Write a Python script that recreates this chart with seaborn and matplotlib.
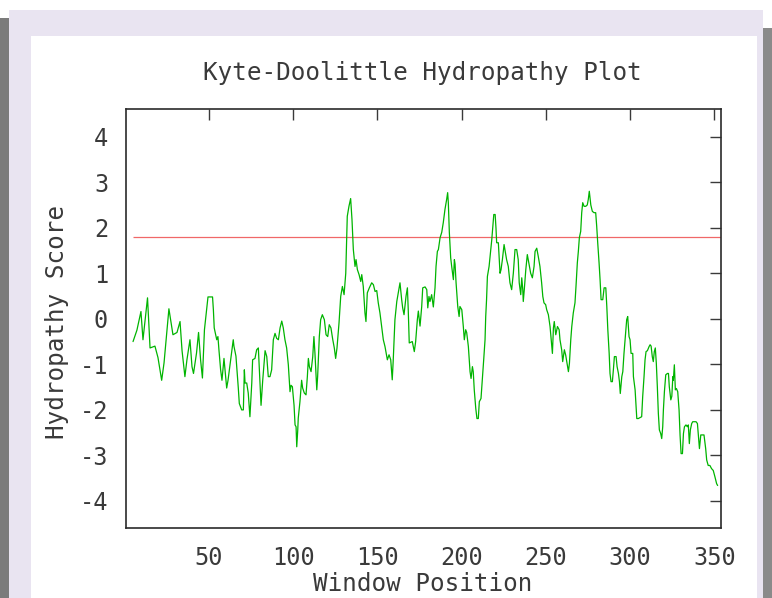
import matplotlib
matplotlib.use("Agg")
import matplotlib.pyplot as plt
import seaborn as sns
import pandas as pd
from matplotlib.patches import Rectangle

# ---------------- data ----------------
position = [
    4.9, 7.2, 9.6, 10.8, 13.5, 15.0, 17.9, 19.7, 21.9, 23.3, 26.2, 28.6, 31.0, 32.8, 34.0,
    35.7, 36.9, 38.7, 39.9, 40.8, 42.6, 43.8, 45.0, 46.1, 47.3, 48.6, 49.4, 52.1, 52.6, 53.1,
    54.6, 55.3, 55.9, 56.9, 57.7, 58.9, 59.5, 60.5, 61.3, 62.9, 64.4, 64.8, 66.0, 67.4, 68.0,
    69.4, 70.4, 71.0, 71.4, 72.4, 73.3, 74.3, 75.4, 75.9, 77.3, 78.3, 79.3, 80.3, 80.9, 81.9,
    82.7, 83.3, 84.3, 85.2, 86.2, 87.2, 88.2, 89.2, 90.2, 91.2, 92.2, 93.2, 94.1, 95.1, 96.1,
    97.1, 98.1, 98.7, 99.5, 100.5, 101.1, 101.7, 102.1, 102.7, 103.0, 104.0, 105.0, 105.6, 106.6, 107.6,
    108.4, 109.0, 109.6, 110.6, 111.6, 112.3, 112.9, 114.0, 114.5, 115.5, 116.3, 117.3, 118.5, 119.5, 120.5,
    121.4, 122.4, 123.5, 124.4, 125.2, 126.0, 127.2, 128.2, 129.2, 130.2, 131.2, 132.1, 133.1, 134.1, 134.9,
    135.7, 136.7, 137.3, 138.1, 139.1, 140.1, 140.7, 141.6, 142.6, 143.2, 144.0, 145.2, 146.6, 147.6, 148.6,
    149.6, 150.5, 151.5, 152.6, 153.5, 154.5, 155.9, 156.9, 157.9, 158.8, 159.4, 160.4, 161.5, 162.4, 163.4,
    164.4, 165.0, 165.8, 167.0, 167.8, 168.3, 168.9, 170.7, 171.9, 172.7, 173.7, 174.3, 175.3, 176.3, 176.9,
    178.3, 179.3, 179.9, 180.6, 181.2, 182.2, 183.2, 184.2, 184.8, 185.6, 186.2, 187.2, 188.2, 189.1, 190.1,
    191.1, 191.7, 192.1, 192.7, 193.5, 194.1, 195.1, 195.7, 196.1, 196.7, 197.7, 198.5, 199.0, 200.1, 201.0,
    201.6, 202.4, 203.0, 204.0, 205.0, 205.6, 206.4, 206.9, 207.5, 208.4, 209.1, 209.9, 210.5, 211.5, 212.3,
    213.1, 213.9, 214.3, 214.8, 215.3, 216.3, 216.9, 217.9, 218.5, 219.1, 219.9, 220.4, 220.8, 221.8, 222.8,
    223.4, 224.2, 225.2, 225.7, 226.7, 227.7, 228.7, 229.7, 230.7, 231.7, 232.7, 233.6, 234.2, 235.1, 235.7,
    236.3, 236.6, 237.2, 238.1, 239.0, 240.0, 241.0, 242.0, 243.0, 243.6, 244.6, 245.5, 246.5, 247.5, 248.2,
    248.9, 249.9, 250.5, 251.5, 252.5, 253.1, 253.9, 254.5, 255.0, 255.9, 256.9, 257.9, 258.4, 259.4, 260.0,
    261.0, 261.8, 262.4, 263.4, 264.0, 264.8, 265.4, 266.3, 267.3, 267.9, 268.7, 269.3, 269.9, 270.7, 271.3,
    271.9, 272.7, 273.7, 274.6, 275.2, 275.8, 276.7, 277.6, 278.6, 279.6, 280.2, 280.8, 281.6, 282.2, 282.8,
    283.8, 284.6, 285.6, 286.2, 286.8, 287.6, 288.1, 288.7, 289.5, 290.1, 290.7, 291.7, 292.3, 293.1, 293.7,
    294.2, 295.1, 295.7, 296.4, 297.4, 298.0, 298.6, 299.4, 300.0, 300.6, 301.6, 302.0, 303.0, 303.6, 304.0,
    304.9, 305.9, 306.9, 307.5, 308.3, 308.9, 309.5, 310.3, 311.3, 311.9, 312.5, 313.2, 313.8, 314.4, 315.0,
    315.6, 316.2, 316.8, 317.4, 318.2, 318.8, 319.4, 319.8, 320.4, 321.2, 322.2, 322.8, 323.3, 324.2, 324.8,
    325.4, 325.7, 326.3, 326.9, 327.5, 328.3, 329.1, 329.7, 330.3, 331.1, 331.7, 332.3, 333.2, 334.0, 334.6,
    335.2, 335.8, 336.6, 337.2, 338.2, 339.2, 340.0, 340.6, 341.2, 342.0, 342.9, 343.9, 344.9, 345.5, 346.4,
    347.4, 348.4, 349.4, 350.4, 351.4, 352.0,
]
score = [
    -0.50, -0.25, 0.16, -0.46, 0.46, -0.64, -0.60, -0.85, -1.35, -0.97, 0.22, -0.35, -0.30, -0.06, -0.70,
    -1.27, -0.90, -0.46, -1.05, -1.20, -0.75, -0.30, -0.90, -1.30, -0.24, 0.20, 0.48, 0.48, 0.20, -0.20,
    -0.46, -0.39, -0.68, -1.12, -1.35, -0.87, -1.12, -1.52, -1.35, -0.90, -0.46, -0.60, -0.82, -1.52, -1.86,
    -2.00, -2.00, -1.12, -1.41, -1.41, -1.63, -2.15, -1.41, -0.90, -0.87, -0.68, -0.64, -1.41, -1.90, -1.35,
    -0.98, -0.70, -0.83, -1.27, -1.27, -1.12, -0.46, -0.32, -0.43, -0.46, -0.20, -0.05, -0.20, -0.46, -0.64,
    -1.01, -1.60, -1.46, -1.49, -1.90, -2.33, -2.37, -2.81, -2.44, -2.18, -1.82, -1.35, -1.52, -1.63, -1.67,
    -1.27, -0.87, -1.05, -1.16, -0.83, -0.39, -0.75, -1.56, -1.27, -0.39, -0.02, 0.09, -0.02, -0.35, -0.39,
    -0.13, -0.20, -0.46, -0.64, -0.87, -0.64, -0.09, 0.49, 0.71, 0.53, 1.00, 2.25, 2.47, 2.64, 2.18,
    1.52, 1.15, 1.30, 1.08, 0.97, 0.82, 0.97, 0.71, 0.13, -0.06, 0.57, 0.68, 0.79, 0.75, 0.60,
    0.62, 0.35, 0.13, -0.20, -0.46, -0.61, -0.90, -0.79, -0.90, -1.34, -0.90, -0.02, 0.38, 0.57, 0.79,
    0.42, 0.24, 0.09, 0.50, 0.68, 0.20, -0.53, -0.50, -0.72, -0.50, -0.02, 0.17, -0.16, 0.27, 0.68,
    0.70, 0.64, 0.24, 0.49, 0.38, 0.53, 0.26, 0.68, 1.15, 1.48, 1.52, 1.78, 1.90, 2.11, 2.40,
    2.62, 2.77, 2.55, 1.90, 1.34, 1.15, 0.86, 1.30, 1.20, 0.79, 0.27, 0.05, 0.27, 0.20, -0.17,
    -0.46, -0.24, -0.30, -0.61, -1.16, -1.31, -1.05, -1.16, -1.56, -1.97, -2.19, -2.19, -1.82, -1.75, -1.34,
    -0.90, -0.46, 0.05, 0.42, 0.93, 1.15, 1.37, 1.74, 2.03, 2.29, 2.29, 1.99, 1.67, 1.67, 1.00,
    1.08, 1.30, 1.63, 1.52, 1.30, 1.15, 0.79, 0.64, 1.00, 1.52, 1.52, 1.30, 0.79, 0.53, 0.90,
    0.64, 0.38, 0.64, 1.08, 1.41, 1.20, 1.00, 0.90, 1.15, 1.48, 1.55, 1.37, 1.15, 0.79, 0.49,
    0.35, 0.31, 0.20, 0.09, -0.17, -0.43, -0.76, -0.20, -0.06, -0.35, -0.17, -0.24, -0.46, -0.68, -0.94,
    -0.68, -0.80, -0.94, -1.16, -0.98, -0.46, -0.17, 0.13, 0.35, 0.71, 1.23, 1.48, 1.78, 1.92, 2.33,
    2.55, 2.47, 2.47, 2.50, 2.62, 2.80, 2.50, 2.36, 2.33, 2.33, 2.03, 1.67, 1.23, 0.86, 0.42,
    0.42, 0.68, 0.68, 0.27, -0.24, -0.76, -1.20, -1.38, -1.38, -1.12, -0.83, -0.83, -1.05, -1.20, -1.38,
    -1.64, -1.27, -1.16, -0.76, -0.31, -0.02, 0.05, -0.39, -0.46, -0.76, -0.76, -1.27, -1.56, -1.93, -2.19,
    -2.19, -2.17, -2.15, -1.71, -1.27, -0.90, -0.72, -0.70, -0.61, -0.57, -0.60, -0.83, -0.94, -0.72, -0.64,
    -0.98, -1.49, -2.08, -2.44, -2.52, -2.63, -2.37, -2.00, -1.60, -1.23, -1.20, -1.20, -1.49, -1.78, -1.70,
    -1.27, -1.35, -1.01, -1.56, -1.53, -1.60, -2.00, -2.56, -2.96, -2.96, -2.52, -2.37, -2.33, -2.37, -2.33,
    -2.74, -2.44, -2.30, -2.26, -2.26, -2.26, -2.30, -2.59, -2.85, -2.55, -2.55, -2.55, -2.85, -3.10, -3.22,
    -3.22, -3.29, -3.33, -3.47, -3.62, -3.66,
]
threshold = 1.8
x_ticks = [50, 100, 150, 200, 250, 300, 350]
y_ticks = [-4, -3, -2, -1, 0, 1, 2, 3, 4]
title_text = "Kyte-Doolittle Hydropathy Plot"
x_label = "Window Position"
y_label = "Hydropathy Score"

df = pd.DataFrame({"Window Position": position, "Hydropathy Score": score})

# ---------------- style ----------------
sns.set_style("white")
plt.rcParams["font.family"] = ["DejaVu Sans Mono", "DejaVu Sans"]
plt.rcParams["axes.unicode_minus"] = False

TEXT = "#3a3a3a"
W, H = 772, 598
fig = plt.figure(figsize=(W / 100, H / 100), dpi=100)
fig.patch.set_facecolor("white")


def px_rect(x0, y0, x1, y1, color, z=-10):
    fig.add_artist(Rectangle((x0 / W, 1 - y1 / H), (x1 - x0) / W, (y1 - y0) / H,
                             transform=fig.transFigure, facecolor=color,
                             edgecolor="none", zorder=z))


# window frame decoration
px_rect(9, 10, 763, 598, "#e9e4f1")
px_rect(0, 18, 9, 598, "#7b7b7b")
px_rect(763, 28, 772, 598, "#8a8a8a")
px_rect(31, 36, 757, 598, "white", z=-9)

ax = fig.add_axes([126.3 / W, 1 - 528.3 / H, (721 - 126.3) / W, (528.3 - 109.3) / H])
ax.set_facecolor("white")

sns.lineplot(data=df, x="Window Position", y="Hydropathy Score", ax=ax,
             color="#00b400", linewidth=0.9, estimator=None, sort=False)
ax.hlines(threshold, position[0], 354, color="#f06868", linewidth=0.9, zorder=1)

ax.set_xlim(0.9, 354)
ax.set_ylim(-4.6, 4.6)
ax.set_xticks(x_ticks)
ax.set_yticks(y_ticks)
ax.set_xlabel("")
ax.set_ylabel("")
ax.tick_params(direction="in", length=8, width=1, top=True, right=True,
               labeltop=False, labelright=False, pad=13, labelsize=17,
               colors=TEXT)
for s in ax.spines.values():
    s.set_visible(True)
    s.set_linewidth(1.2)
    s.set_color("#2a2a2a")

fig.text(422 / W, 1 - 73 / H, title_text, ha="center", va="center",
         fontsize=17.5, color=TEXT)
fig.text(57 / W, 1 - 322 / H, y_label, ha="center", va="center",
         rotation=90, fontsize=17.5, color=TEXT)
fig.text(423 / W, 1 - 591 / H, x_label, ha="center", va="baseline",
         fontsize=17.5, color=TEXT)

fig.savefig("out.png", dpi=100)
